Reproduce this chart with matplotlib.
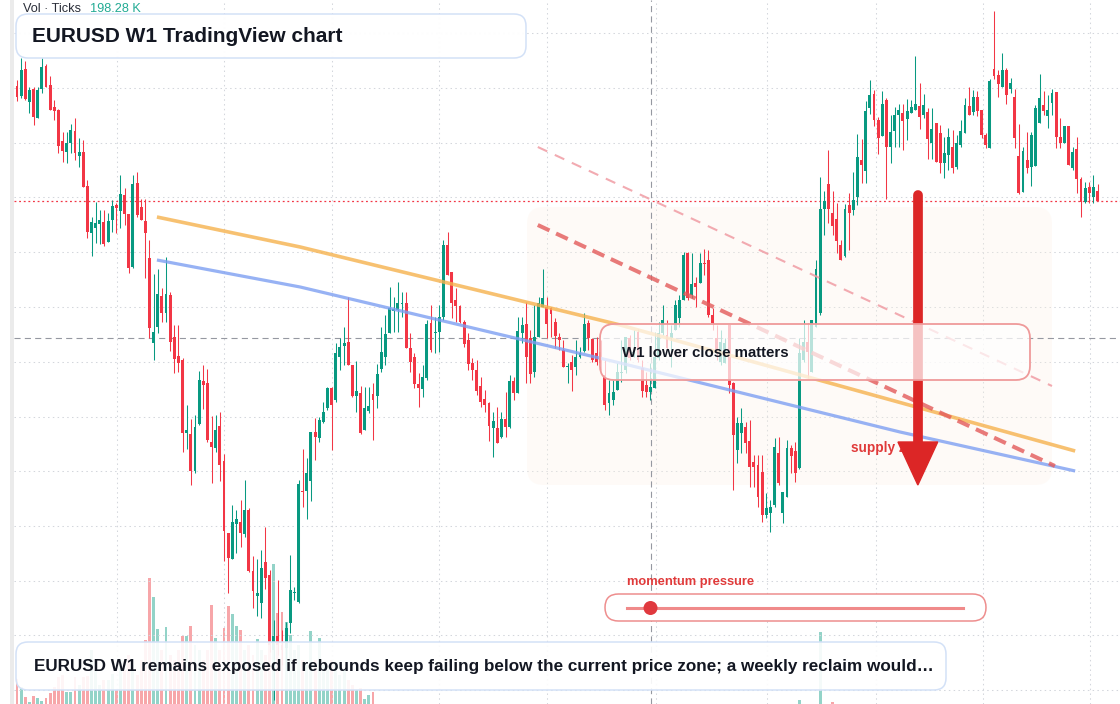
import matplotlib
matplotlib.use("Agg")
import matplotlib.pyplot as plt
import numpy as np
from matplotlib.patches import FancyBboxPatch, Rectangle, Circle, Polygon
from matplotlib.lines import Line2D
from matplotlib.transforms import IdentityTransform

plt.rcParams['font.family'] = ['Liberation Sans', 'DejaVu Sans']

# weekly EURUSD candles
opens = [
    1.2656, 1.2616, 1.2724, 1.2592, 1.2644, 1.2528, 1.2644, 1.2736, 1.2660, 1.2572,
    1.2560, 1.2436, 1.2392, 1.2428, 1.2476, 1.2376, 1.2392, 1.2256, 1.2068, 1.2088,
    1.2104, 1.2112, 1.2032, 1.2120, 1.2180, 1.2156, 1.2220, 1.2144, 1.1932, 1.2268,
    1.2172, 1.2116, 1.1968, 1.1628, 1.1692, 1.1816, 1.1748, 1.1820, 1.1652, 1.1576,
    1.1560, 1.1268, 1.1264, 1.1116, 1.1304, 1.1476, 1.1468, 1.1232, 1.1208, 1.1296,
    1.1156, 1.0868, 1.0764, 1.0904, 1.0912, 1.0864, 1.0960, 1.0716, 1.0616, 1.0588,
    1.0752, 1.0700, 1.0400, 1.0456, 1.0420, 1.0408, 1.0508, 1.0628, 1.0592, 1.1036,
    1.1036, 1.1076, 1.1272, 1.1248, 1.1312, 1.1368, 1.1448, 1.1400, 1.1572, 1.1616,
    1.1632, 1.1540, 1.1416, 1.1428, 1.1280, 1.1356, 1.1424, 1.1416, 1.1524, 1.1572,
    1.1668, 1.1756, 1.1760, 1.1784, 1.1788, 1.1608, 1.1572, 1.1464, 1.1444, 1.1488,
    1.1708, 1.1668, 1.1672, 1.1732, 1.2020, 1.1912, 1.1800, 1.1776, 1.1712, 1.1640,
    1.1548, 1.1520, 1.1456, 1.1404, 1.1388, 1.1288, 1.1288, 1.1252, 1.1324, 1.1292,
    1.1476, 1.1428, 1.1668, 1.1704, 1.1648, 1.1512, 1.1652, 1.1772, 1.1772, 1.1768,
    1.1712, 1.1652, 1.1600, 1.1532, 1.1552, 1.1532, 1.1572, 1.1596, 1.1708, 1.1644,
    1.1588, 1.1592, 1.1500, 1.1388, 1.1400, 1.1440, 1.1508, 1.1520, 1.1648, 1.1588,
    1.1672, 1.1528, 1.1460, 1.1432, 1.1448, 1.1568, 1.1668, 1.1660, 1.1648, 1.1680,
    1.1728, 1.1800, 1.1988, 1.1820, 1.1868, 1.1868, 1.1948, 1.1960, 1.1740, 1.1648,
    1.1552, 1.1548, 1.1700, 1.1468, 1.1200, 1.1268, 1.1292, 1.1236, 1.1152, 1.1140,
    1.1112, 1.0940, 1.0948, 1.0980, 1.1188, 1.0948, 1.1012, 1.1208, 1.1196, 1.1128,
    1.1560, 1.1632, 1.1512, 1.1692, 1.1748, 1.2164, 1.2264, 1.2148, 1.2124, 1.2020,
    1.1976, 1.2180, 1.2160, 1.2212, 1.2360, 1.2316, 1.2568, 1.2624, 1.2520, 1.2456,
    1.2600, 1.2412, 1.2476, 1.2540, 1.2548, 1.2524, 1.2548, 1.2560, 1.2576, 1.2540,
    1.2552, 1.2428, 1.2508, 1.2468, 1.2348, 1.2380, 1.2412, 1.2332, 1.2420, 1.2468,
    1.2576, 1.2552, 1.2612, 1.2560, 1.2460, 1.2408, 1.2724, 1.2700, 1.2652, 1.2720,
    1.2644, 1.2612, 1.2376, 1.2232, 1.2360, 1.2332, 1.2336, 1.2508, 1.2580, 1.2536,
    1.2588, 1.2632, 1.2452, 1.2428, 1.2496, 1.2328, 1.2404, 1.2284, 1.2192, 1.2252,
    1.2212, 1.2236,
]
highs = [
    1.2680, 1.2768, 1.2756, 1.2652, 1.2652, 1.2652, 1.2768, 1.2744, 1.2696, 1.2600,
    1.2564, 1.2472, 1.2472, 1.2504, 1.2528, 1.2448, 1.2440, 1.2280, 1.2132, 1.2192,
    1.2160, 1.2160, 1.2148, 1.2200, 1.2188, 1.2300, 1.2248, 1.2144, 1.2300, 1.2312,
    1.2204, 1.2204, 1.2040, 1.1904, 1.1924, 1.1848, 1.1972, 1.1832, 1.1700, 1.1700,
    1.1568, 1.1380, 1.1324, 1.1340, 1.1516, 1.1540, 1.1524, 1.1336, 1.1340, 1.1352,
    1.1184, 1.0868, 1.0980, 1.0960, 1.1000, 1.1080, 1.0968, 1.0776, 1.0764, 1.0800,
    1.0892, 1.0720, 1.0520, 1.0680, 1.0480, 1.0512, 1.0780, 1.0652, 1.1080, 1.1204,
    1.1168, 1.1272, 1.1328, 1.1332, 1.1392, 1.1452, 1.1452, 1.1628, 1.1648, 1.1692,
    1.1812, 1.1540, 1.1556, 1.1456, 1.1452, 1.1452, 1.1468, 1.1544, 1.1692, 1.1740,
    1.1852, 1.1812, 1.1872, 1.1832, 1.1832, 1.1668, 1.1588, 1.1508, 1.1540, 1.1720,
    1.1780, 1.1732, 1.1780, 1.2040, 1.2072, 1.1912, 1.1848, 1.1780, 1.1720, 1.1668,
    1.1568, 1.1560, 1.1492, 1.1440, 1.1392, 1.1352, 1.1372, 1.1352, 1.1432, 1.1500,
    1.1492, 1.1732, 1.1732, 1.1792, 1.1680, 1.1780, 1.1812, 1.1924, 1.1812, 1.1772,
    1.1728, 1.1668, 1.1640, 1.1548, 1.1580, 1.1640, 1.1612, 1.1748, 1.1720, 1.1648,
    1.1652, 1.1640, 1.1560, 1.1480, 1.1480, 1.1548, 1.1640, 1.1652, 1.1660, 1.1680,
    1.1684, 1.1560, 1.1512, 1.1548, 1.1672, 1.1712, 1.1780, 1.1720, 1.1700, 1.1800,
    1.1820, 1.1992, 1.1992, 1.1988, 1.1892, 1.1988, 1.2004, 1.2000, 1.1768, 1.1700,
    1.1680, 1.1648, 1.1700, 1.1472, 1.1332, 1.1368, 1.1312, 1.1320, 1.1180, 1.1180,
    1.1180, 1.1028, 1.1000, 1.1248, 1.1252, 1.1032, 1.1240, 1.1220, 1.1232, 1.1648,
    1.1720, 1.1708, 1.1720, 1.1960, 1.2292, 1.2236, 1.2400, 1.2236, 1.2188, 1.2040,
    1.2184, 1.2228, 1.2312, 1.2464, 1.2444, 1.2596, 1.2680, 1.2640, 1.2532, 1.2636,
    1.2608, 1.2540, 1.2572, 1.2584, 1.2584, 1.2604, 1.2600, 1.2776, 1.2668, 1.2624,
    1.2568, 1.2568, 1.2508, 1.2500, 1.2452, 1.2488, 1.2480, 1.2460, 1.2520, 1.2608,
    1.2652, 1.2640, 1.2636, 1.2560, 1.2468, 1.2684, 1.2956, 1.2720, 1.2788, 1.2728,
    1.2688, 1.2644, 1.2504, 1.2412, 1.2472, 1.2472, 1.2580, 1.2704, 1.2636, 1.2620,
    1.2644, 1.2632, 1.2528, 1.2496, 1.2496, 1.2412, 1.2452, 1.2292, 1.2272, 1.2272,
    1.2300, 1.2264,
]
lows = [
    1.2596, 1.2608, 1.2600, 1.2548, 1.2500, 1.2528, 1.2628, 1.2652, 1.2560, 1.2520,
    1.2388, 1.2352, 1.2348, 1.2388, 1.2360, 1.2332, 1.2252, 1.2048, 1.1976, 1.2028,
    1.2024, 1.2016, 1.2032, 1.2072, 1.2068, 1.2088, 1.2100, 1.1908, 1.1928, 1.2132,
    1.2120, 1.1888, 1.1648, 1.1560, 1.1668, 1.1712, 1.1712, 1.1596, 1.1508, 1.1512,
    1.1192, 1.1204, 1.1060, 1.1108, 1.1300, 1.1364, 1.1232, 1.1068, 1.1192, 1.1076,
    1.0756, 1.0628, 1.0764, 1.0788, 1.0812, 1.0852, 1.0712, 1.0568, 1.0536, 1.0528,
    1.0644, 1.0392, 1.0200, 1.0380, 1.0340, 1.0320, 1.0468, 1.0600, 1.0588, 1.0972,
    1.0924, 1.0996, 1.1160, 1.1232, 1.1308, 1.1360, 1.1200, 1.1392, 1.1520, 1.1540,
    1.1540, 1.1412, 1.1352, 1.1264, 1.1280, 1.1348, 1.1240, 1.1368, 1.1512, 1.1540,
    1.1668, 1.1672, 1.1672, 1.1732, 1.1608, 1.1512, 1.1448, 1.1372, 1.1412, 1.1480,
    1.1592, 1.1588, 1.1592, 1.1720, 1.1900, 1.1728, 1.1712, 1.1708, 1.1612, 1.1520,
    1.1480, 1.1420, 1.1372, 1.1352, 1.1236, 1.1172, 1.1228, 1.1248, 1.1252, 1.1288,
    1.1400, 1.1428, 1.1628, 1.1468, 1.1468, 1.1492, 1.1652, 1.1772, 1.1648, 1.1652,
    1.1608, 1.1600, 1.1532, 1.1468, 1.1436, 1.1500, 1.1568, 1.1592, 1.1600, 1.1552,
    1.1540, 1.1520, 1.1360, 1.1340, 1.1380, 1.1440, 1.1472, 1.1508, 1.1560, 1.1572,
    1.1552, 1.1412, 1.1412, 1.1400, 1.1448, 1.1560, 1.1660, 1.1600, 1.1532, 1.1680,
    1.1692, 1.1800, 1.1800, 1.1808, 1.1772, 1.1868, 1.1900, 1.1732, 1.1680, 1.1560,
    1.1540, 1.1548, 1.1428, 1.1040, 1.1148, 1.1188, 1.1188, 1.1052, 1.1052, 1.0972,
    1.0912, 1.0928, 1.0872, 1.0972, 1.1060, 1.0908, 1.1012, 1.1108, 1.1072, 1.1124,
    1.1552, 1.1488, 1.1512, 1.1692, 1.1740, 1.2060, 1.2108, 1.2060, 1.1988, 1.1960,
    1.1972, 1.2000, 1.2140, 1.2180, 1.2268, 1.2268, 1.2544, 1.2496, 1.2384, 1.2456,
    1.2204, 1.2348, 1.2412, 1.2412, 1.2400, 1.2440, 1.2548, 1.2560, 1.2484, 1.2528,
    1.2364, 1.2364, 1.2352, 1.2308, 1.2288, 1.2320, 1.2308, 1.2324, 1.2412, 1.2468,
    1.2540, 1.2540, 1.2536, 1.2448, 1.2408, 1.2408, 1.2684, 1.2612, 1.2652, 1.2584,
    1.2628, 1.2408, 1.2224, 1.2232, 1.2308, 1.2256, 1.2336, 1.2508, 1.2540, 1.2488,
    1.2540, 1.2408, 1.2408, 1.2428, 1.2340, 1.2320, 1.2228, 1.2132, 1.2188, 1.2188,
    1.2188, 1.2196,
]
closes = [
    1.2612, 1.2720, 1.2604, 1.2640, 1.2532, 1.2640, 1.2732, 1.2652, 1.2560, 1.2556,
    1.2416, 1.2396, 1.2428, 1.2480, 1.2388, 1.2392, 1.2252, 1.2072, 1.2112, 1.2108,
    1.2120, 1.2024, 1.2116, 1.2176, 1.2168, 1.2224, 1.2144, 1.1928, 1.2264, 1.2140,
    1.2120, 1.2068, 1.1688, 1.1672, 1.1824, 1.1748, 1.1824, 1.1632, 1.1564, 1.1548,
    1.1268, 1.1280, 1.1116, 1.1292, 1.1480, 1.1460, 1.1240, 1.1212, 1.1280, 1.1140,
    1.0876, 1.0768, 1.0912, 1.0924, 1.0868, 1.0960, 1.0716, 1.0636, 1.0628, 1.0728,
    1.0688, 1.0420, 1.0456, 1.0420, 1.0400, 1.0488, 1.0640, 1.0632, 1.1064, 1.1032,
    1.1108, 1.1272, 1.1252, 1.1320, 1.1352, 1.1448, 1.1380, 1.1588, 1.1612, 1.1628,
    1.1540, 1.1416, 1.1436, 1.1268, 1.1368, 1.1376, 1.1400, 1.1504, 1.1592, 1.1664,
    1.1768, 1.1764, 1.1788, 1.1788, 1.1608, 1.1552, 1.1464, 1.1448, 1.1492, 1.1704,
    1.1600, 1.1672, 1.1732, 1.2020, 1.1900, 1.1788, 1.1776, 1.1712, 1.1624, 1.1544,
    1.1520, 1.1436, 1.1392, 1.1380, 1.1296, 1.1316, 1.1228, 1.1324, 1.1292, 1.1476,
    1.1428, 1.1676, 1.1700, 1.1572, 1.1504, 1.1652, 1.1788, 1.1808, 1.1704, 1.1744,
    1.1656, 1.1640, 1.1532, 1.1536, 1.1520, 1.1572, 1.1588, 1.1704, 1.1648, 1.1560,
    1.1552, 1.1548, 1.1380, 1.1428, 1.1432, 1.1512, 1.1512, 1.1652, 1.1568, 1.1592,
    1.1560, 1.1436, 1.1432, 1.1452, 1.1572, 1.1668, 1.1720, 1.1608, 1.1668, 1.1780,
    1.1800, 1.1980, 1.1808, 1.1864, 1.1852, 1.1948, 1.1944, 1.1740, 1.1708, 1.1592,
    1.1632, 1.1628, 1.1460, 1.1260, 1.1308, 1.1308, 1.1228, 1.1132, 1.1132, 1.1012,
    1.0940, 1.0968, 1.0972, 1.1212, 1.1068, 1.1032, 1.1208, 1.1176, 1.1108, 1.1588,
    1.1632, 1.1592, 1.1720, 1.1924, 1.2164, 1.2196, 1.2164, 1.2096, 1.2036, 1.1960,
    1.2164, 1.2148, 1.2200, 1.2372, 1.2340, 1.2556, 1.2620, 1.2520, 1.2448, 1.2584,
    1.2412, 1.2472, 1.2540, 1.2560, 1.2516, 1.2556, 1.2572, 1.2584, 1.2532, 1.2580,
    1.2444, 1.2484, 1.2352, 1.2348, 1.2388, 1.2452, 1.2328, 1.2428, 1.2476, 1.2580,
    1.2540, 1.2612, 1.2556, 1.2460, 1.2420, 1.2676, 1.2696, 1.2664, 1.2720, 1.2620,
    1.2668, 1.2448, 1.2228, 1.2396, 1.2328, 1.2460, 1.2568, 1.2608, 1.2556, 1.2560,
    1.2628, 1.2452, 1.2428, 1.2496, 1.2340, 1.2392, 1.2284, 1.2192, 1.2248, 1.2228,
    1.2252, 1.2196,
]
# tick volume in thousands (only part of the history has ticks)
volumes = ([50, 34, 14, 4, 16, 12, 6, 12, 22, 34,
            54, 58, 24, 24, 54, 38, 54, 56, 108, 68,
            38, 48, 48, 60, 28, 88, 68, 98, 78, 58,
            88, 128, 252, 214, 150, 108, 154, 98, 88, 108,
            136, 136, 156, 118, 108, 88, 108, 198, 132, 108,
            152, 196, 180, 156, 148, 108, 118, 98, 130, 108,
            98, 118, 280, 182, 184, 164, 138, 108, 118, 88,
            78, 146, 88, 132, 78, 68, 88, 78, 58, 68,
            48, 38, 28, 32, 10, 18, 24]
           + [0] * 102 + [8, 0, 0, 0, 0, 144, 0, 0, 4] + [0] * 64)

grid_prices = [1.2868, 1.2648, 1.2428, 1.2212, 1.1992, 1.1772, 1.1552,
               1.1332, 1.1116, 1.0896, 1.0676, 1.0460, 1.0240]
grid_bars = [24.2, 50.0, 76.1, 101.9, 128.0, 154.3, 181.2, 207.5, 233.3, 259.2]

# drawings (bar index, price)
orange_line = ([33.8, 68.4, 145.7, 255.6], [1.2132, 1.2012, 1.1700, 1.1196])
blue_line = ([33.8, 68.4, 145.7, 213.3, 255.6], [1.1960, 1.1852, 1.1548, 1.1272, 1.1116])
red_dash = ([125.8, 250.7], [1.2100, 1.1136])
pink_dash = ([125.8, 250.0], [1.2412, 1.1456])
zone = (123.2, 250.0, 1.1060, 1.2172)
cross_bar, cross_price = 153.26, 1.1648
arrow_bar, arrow_top, arrow_tip, head_len, head_half = 217.6, 1.2220, 1.1060, 0.0172, 4.8
momentum_value = 0.07

W, H = 1120, 704
fig = plt.figure(figsize=(W / 100, H / 100), dpi=100)
fig.patch.set_facecolor('white')
vax = fig.add_axes([0, 0, 1, 1], zorder=0)
ax = fig.add_axes([0, 0, 1, 1], zorder=1)
ax.patch.set_alpha(0)
for a in (ax, vax):
    a.set_axis_off()
    a.set_xlim(-4.106, 266.43)
ax.set_ylim(1.0184, 1.3)
vax.set_ylim(0, 1408)

o = np.array(opens); h = np.array(highs); l = np.array(lows); c = np.array(closes)
x = np.arange(len(o))
up = c >= o

vcol = np.where(up, '#93d3c8', '#f7a6a9')
vax.bar(x, volumes, width=0.7, color=vcol, linewidth=0)

# grid
for p in grid_prices:
    ax.axhline(p, xmin=14 / W, color='#d3d6dc', lw=0.75, ls=(0, (1.4, 3.2)), zorder=0.5)
for b in grid_bars:
    ax.axvline(b, color='#d3d6dc', lw=0.75, ls=(0, (1.4, 3.2)), zorder=0.5)

# zone
zb = FancyBboxPatch((zone[0], zone[2]), zone[1] - zone[0], zone[3] - zone[2],
                    boxstyle='round,pad=0,rounding_size=4', mutation_aspect=0.001656,
                    fc='#fcf1e6', ec='none', alpha=0.3, zorder=0.8)
ax.add_patch(zb)

# crosshair and last price
ax.axvline(cross_bar, color='#9598a1', lw=0.8, ls=(0, (5.5, 3.8)), zorder=1)
ax.axhline(cross_price, xmin=14 / W, color='#9598a1', lw=0.8, ls=(0, (5.5, 3.8)), zorder=1)
ax.axhline(c[-1], xmin=14 / W, color='#f23645', lw=0.9, ls=(0, (1.5, 2.2)), zorder=1)

# candles
ccol = np.where(up, '#089981', '#f23645')
ax.vlines(x, l, h, colors=ccol, lw=0.75, zorder=3)
body_lo = np.minimum(o, c)
body_h = np.maximum(np.abs(c - o), 0.0004)
ax.bar(x, body_h, bottom=body_lo, width=0.7, color=ccol, linewidth=0, zorder=4)

# trend lines
ax.plot(*orange_line, color='#f6b24e', lw=2.6, alpha=0.8, solid_capstyle='butt', zorder=5)
ax.plot(*blue_line, color='#7d9ff2', lw=2.3, alpha=0.8, solid_capstyle='butt', zorder=5)
ax.plot(*pink_dash, color='#f09ca4', lw=1.5, alpha=0.85, ls=(0, (5, 4)), zorder=5)
ax.plot(*red_dash, color='#e35a5a', lw=2.9, alpha=0.8, ls=(0, (3.2, 1.8)), zorder=5)

ax.text(201.4, 1.1208, 'supply zone', color='#e03a3a', fontsize=9.8,
        fontweight='bold', va='center', ha='left', zorder=6)

# big arrow
head_base = arrow_tip + head_len
ax.plot([arrow_bar, arrow_bar], [arrow_top, head_base], color='#dc2626', lw=7,
        solid_capstyle='round', zorder=7)
ax.add_patch(Polygon([(arrow_bar - head_half, head_base), (arrow_bar + head_half, head_base),
                      (arrow_bar, arrow_tip)], closed=True, color='#dc2626', zorder=7))

# overlay panels (pixel coordinates)
ident = IdentityTransform()


def panel(x0, y0, x1, y1, r, fc, ec, lw=1.1):
    p = FancyBboxPatch((x0, H - y1), x1 - x0, y1 - y0,
                       boxstyle='round,pad=0,rounding_size=%g' % r,
                       fc=fc, ec=ec, lw=lw, transform=ident, zorder=3)
    fig.add_artist(p)


fig.add_artist(Rectangle((10, 0), 4, H, fc='#ebebeb', ec='none', transform=ident, zorder=3))

panel(16, 14, 526, 58, 12, (1, 1, 1, 0.96), '#d3e1f7')
fig.text(32 / W, 1 - 36 / H, 'EURUSD W1 TradingView chart', fontsize=15,
         fontweight='bold', color='#131722', va='center', zorder=4)

fig.text(23 / W, 1 - 9 / H, 'Vol · Ticks', fontsize=9.2, color='#2a2e39', va='center', zorder=4)
fig.text(90 / W, 1 - 9 / H, '198.28 K', fontsize=9.2, color='#22ab94', va='center', zorder=4)

panel(600, 324, 1030, 380, 14, (1, 1, 1, 0.72), '#ef9a9a', lw=1.3)
fig.text(622 / W, 1 - 353 / H, 'W1 lower close matters', fontsize=10.8,
         fontweight='bold', color='#131722', va='center', zorder=4)

fig.text(627 / W, 1 - 582 / H, 'momentum pressure', fontsize=9.3,
         fontweight='bold', color='#e03a3a', va='center', zorder=4)
panel(605, 594, 986, 621, 13.5, 'white', '#ee8e8e', lw=1.1)
track_x0, track_x1, track_y = 627, 963, H - 608
fig.add_artist(Line2D([track_x0, track_x1], [track_y, track_y], color='#f08a8a', lw=2.2,
                      transform=ident, zorder=4))
dot_x = track_x0 + momentum_value * (track_x1 - track_x0)
fig.add_artist(Circle((dot_x, track_y), 7, fc='#e0393e', ec='none', transform=ident, zorder=5))

panel(16, 642, 946, 690, 12, (1, 1, 1, 0.9), '#d3e1f7')
fig.text(34 / W, 1 - 666 / H,
         'EURUSD W1 remains exposed if rebounds keep failing below the current price zone; '
         'a weekly reclaim would\u2026',
         fontsize=12.3, fontweight='bold', color='#131722', va='center', zorder=4)

fig.savefig('out.png', dpi=100)
